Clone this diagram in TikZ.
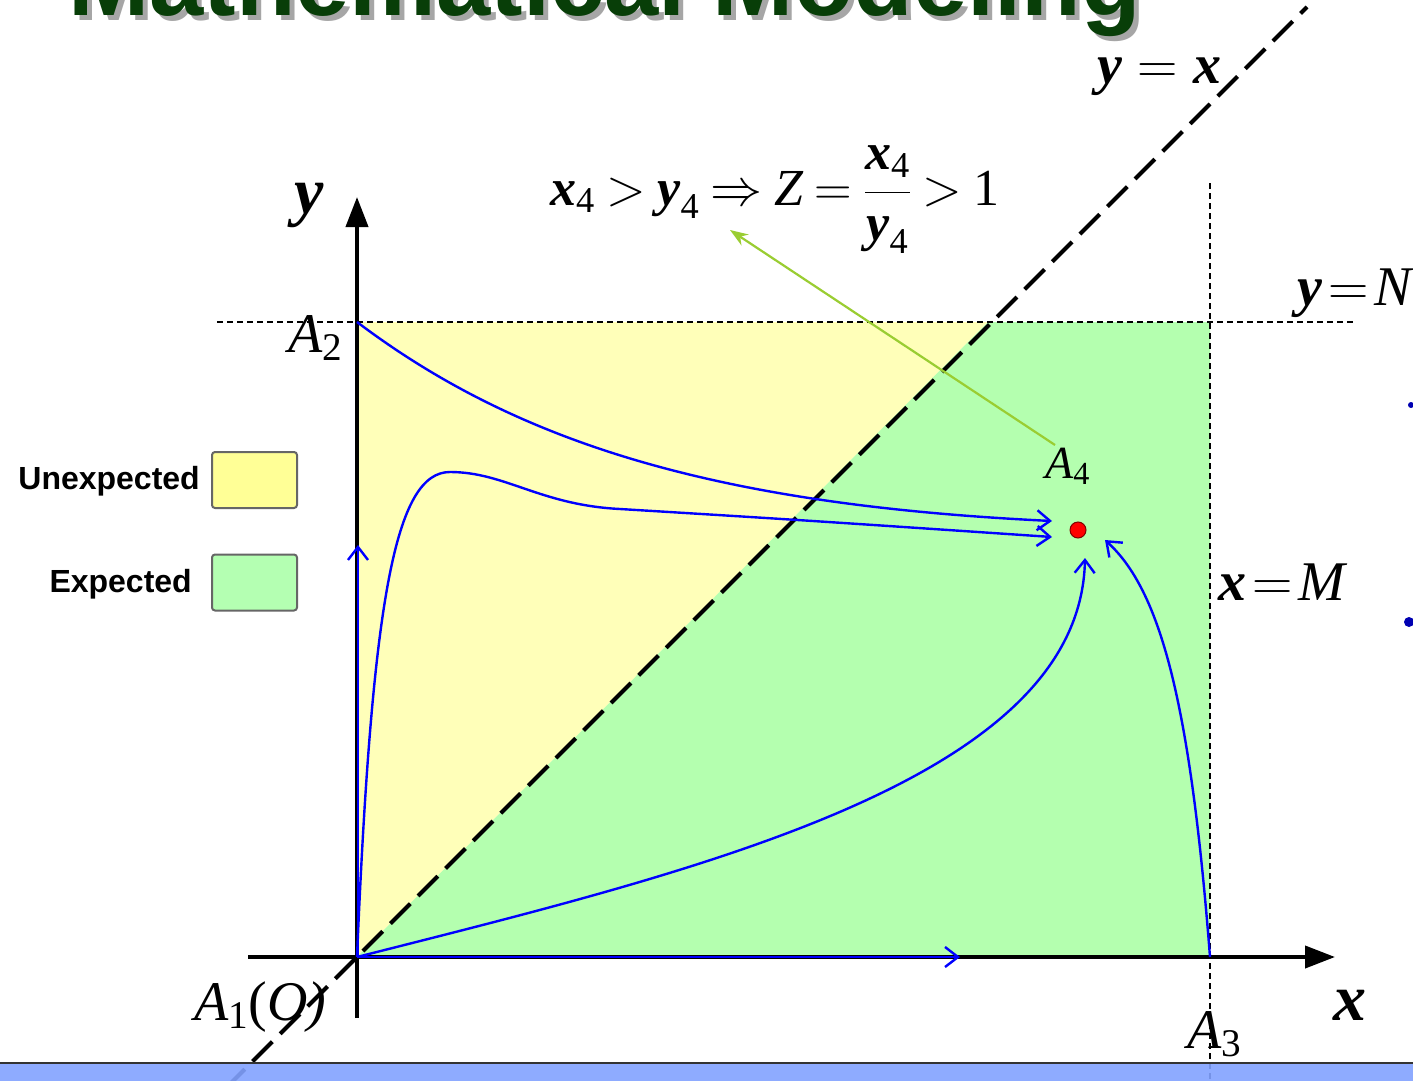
\RequirePackage{fix-cm}
\documentclass[tikz,border=0pt]{standalone}
\usepackage{amsmath}
\usepackage{fontspec}
\setmainfont{Liberation Serif}
\newfontfamily\sansb{Liberation Sans}
\usetikzlibrary{arrows.meta}
\definecolor{regyellow}{RGB}{255,255,185}
\definecolor{reggreen}{RGB}{180,255,175}
\definecolor{legyellow}{RGB}{255,255,150}
\definecolor{leggreen}{RGB}{180,255,178}
\definecolor{titlegreen}{RGB}{8,62,8}
\definecolor{barblue}{RGB}{130,162,255}
\definecolor{pointer}{RGB}{154,205,50}
\newcommand\mvx{\text{\bfseries\itshape x}}
\newcommand\mvy{\text{\bfseries\itshape y}}
\newcommand\mvA{\text{\itshape A}}
\newcommand\tightmath{\thickmuskip=2mu\relax\medmuskip=1mu\relax}
\tikzset{
  axis/.style={line width=4pt, black, -{Triangle[length=30pt,width=22pt]}},
  guide/.style={line width=1.3pt, black, dash pattern=on 6pt off 4pt},
  diag/.style={line width=4pt, black, dash pattern=on 28pt off 11pt},
  traj/.style={line width=2.4pt, blue, -{Straight Barb[length=13pt,width=20pt,line width=2.4pt]}},
  lab/.style={inner sep=0pt, font=\fontsize{56}{60}\selectfont},
  biglab/.style={inner sep=0pt, font=\fontsize{66}{70}\selectfont},
  legtext/.style={inner sep=0pt, font=\sansb\bfseries\fontsize{32}{36}\selectfont},
  legbox/.style={draw=black!60, line width=2pt, rounded corners=3pt, minimum width=85pt, minimum height=56pt, inner sep=0pt},
  ttl/.style={inner sep=0pt, xscale=0.975, font=\sansb\bfseries\fontsize{100}{100}\selectfont}
}
\begin{document}
\begin{tikzpicture}[x=1pt,y=-1pt]
\useasboundingbox (0,0) rectangle (1413,1081);
\clip (0,0) rectangle (1413,1081);
\fill[white] (0,0) rectangle (1413,1081);
% title (cut off at top)
\node[ttl, text=black!35, anchor=base west] (tshadow) at (73,21) {Mathematical Modeling};
\node[ttl, text=titlegreen, anchor=base west] (title) at (68,16) {Mathematical Modeling};
% key points
\coordinate (O) at (357,957);
\coordinate (A2) at (357,322);
\coordinate (A3) at (1210,957);
\coordinate (D) at (988,322);
\coordinate (C) at (1210,322);
% regions
\fill[regyellow] (A2) -- (D) -- (O) -- cycle;
\fill[reggreen] (D) -- (C) -- (A3) -- (O) -- cycle;
% guide lines
\coordinate (hN0) at (217,322);
\coordinate (hN1) at (1355,322);
\coordinate (vM0) at (1210,183);
\coordinate (vM1) at (1210,1081);
\draw[guide] (hN0) -- (hN1);
\draw[guide] (vM0) -- (vM1);
% diagonal y = x
\coordinate (dg0) at (225,1089);
\coordinate (dg1) at (1307,7);
\draw[diag] (dg0) -- (dg1);
% axes
\coordinate (xa0) at (248,957);
\coordinate (xa1) at (1335,957);
\coordinate (ya0) at (357,1018);
\coordinate (ya1) at (357,197);
\draw[axis] (xa0) -- (xa1);
\draw[axis] (ya0) -- (ya1);
% target point
\node[circle, fill=red, draw=red!50!black, line width=1pt, minimum size=16pt, inner sep=0pt] (P) at (1078,530) {};
% trajectories
\coordinate (e1) at (1052,521);
\coordinate (e2) at (1052,537);
\coordinate (e3) at (358,545);
\coordinate (e4) at (960,957);
\coordinate (e5) at (1085,558);
\coordinate (e6) at (1105,540);
\coordinate (pk) at (450,472);
\draw[traj] (A2) .. controls (520,445) and (720,505) .. (e1);
\draw[traj] (O) .. controls (372,600) and (395,472) .. (pk)
  .. controls (505,472) and (540,505) .. (620,509)
  .. controls (800,520) .. (e2);
\draw[traj] (358,957) -- (e3);
\draw[traj] (O) -- (e4);
\draw[traj] (O) .. controls (700,870) and (1080,780) .. (e5);
\draw[traj] (A3) .. controls (1190,700) and (1160,590) .. (e6);
% pointer arrow
\coordinate (pt0) at (1055,445);
\coordinate (pt1) at (730,230);
\draw[pointer, line width=2.2pt, -{Stealth[length=18pt,width=13pt]}] (pt0) -- (pt1);
% labels
\node[biglab, anchor=base] (ylab) at (309,213) {$\mvy$};
\node[biglab, anchor=base] (xlab) at (1350,1020) {$\mvx$};
\node[lab, anchor=base west] (lA2) at (288,352) {$\mvA_{\text{2}}$};
\node[lab, anchor=base west] (lA3) at (1187,1048) {$\mvA_{\text{3}}$};
\node[lab, anchor=base west] (lA1) at (194,1020) {$\mvA_{\text{1}}\text{(\itshape O)}$};
\node[inner sep=0pt, font=\fontsize{46}{50}\selectfont, anchor=base west] (lA4) at (1045,478) {$\mvA_{\text{4}}$};
\node[lab, anchor=base west] (lyx) at (1097,83) {$\thickmuskip=5mu\relax\mvy=\mvx$};
\node[lab, anchor=base west] (lyN) at (1297,305) {$\tightmath\mvy=\text{\itshape N}$};
\node[lab, anchor=base west] (lxM) at (1218,600) {$\tightmath\mvx=\text{\itshape M}$};
\node[inner sep=0pt, font=\fontsize{52}{56}\selectfont, anchor=base west] (fml) at (550,205) {$\thickmuskip=4mu\relax\mvx_{\text{4}}>\mvy_{\text{4}}\Rightarrow\text{\itshape Z}=\dfrac{\mvx_{\text{4}}}{\mvy_{\text{4}}}>\text{1}$};
% legend
\node[legtext, anchor=east] (ut) at (200,481) {Unexpected};
\node[legbox, fill=legyellow] (ub) at (254.5,480) {};
\node[legtext, anchor=east] (et) at (192,584) {Expected};
\node[legbox, fill=leggreen] (eb) at (254.5,582.5) {};
% edge fragments
\fill[blue!70!black] (1411,405) circle (3);
\fill[blue!70!black] (1409,622) circle (5);
% bottom bar
\fill[barblue, opacity=0.9] (0,1063) rectangle (1413,1081);
\draw[line width=2pt, black!80] (0,1063) -- (1413,1063);
\end{tikzpicture}
\end{document}
